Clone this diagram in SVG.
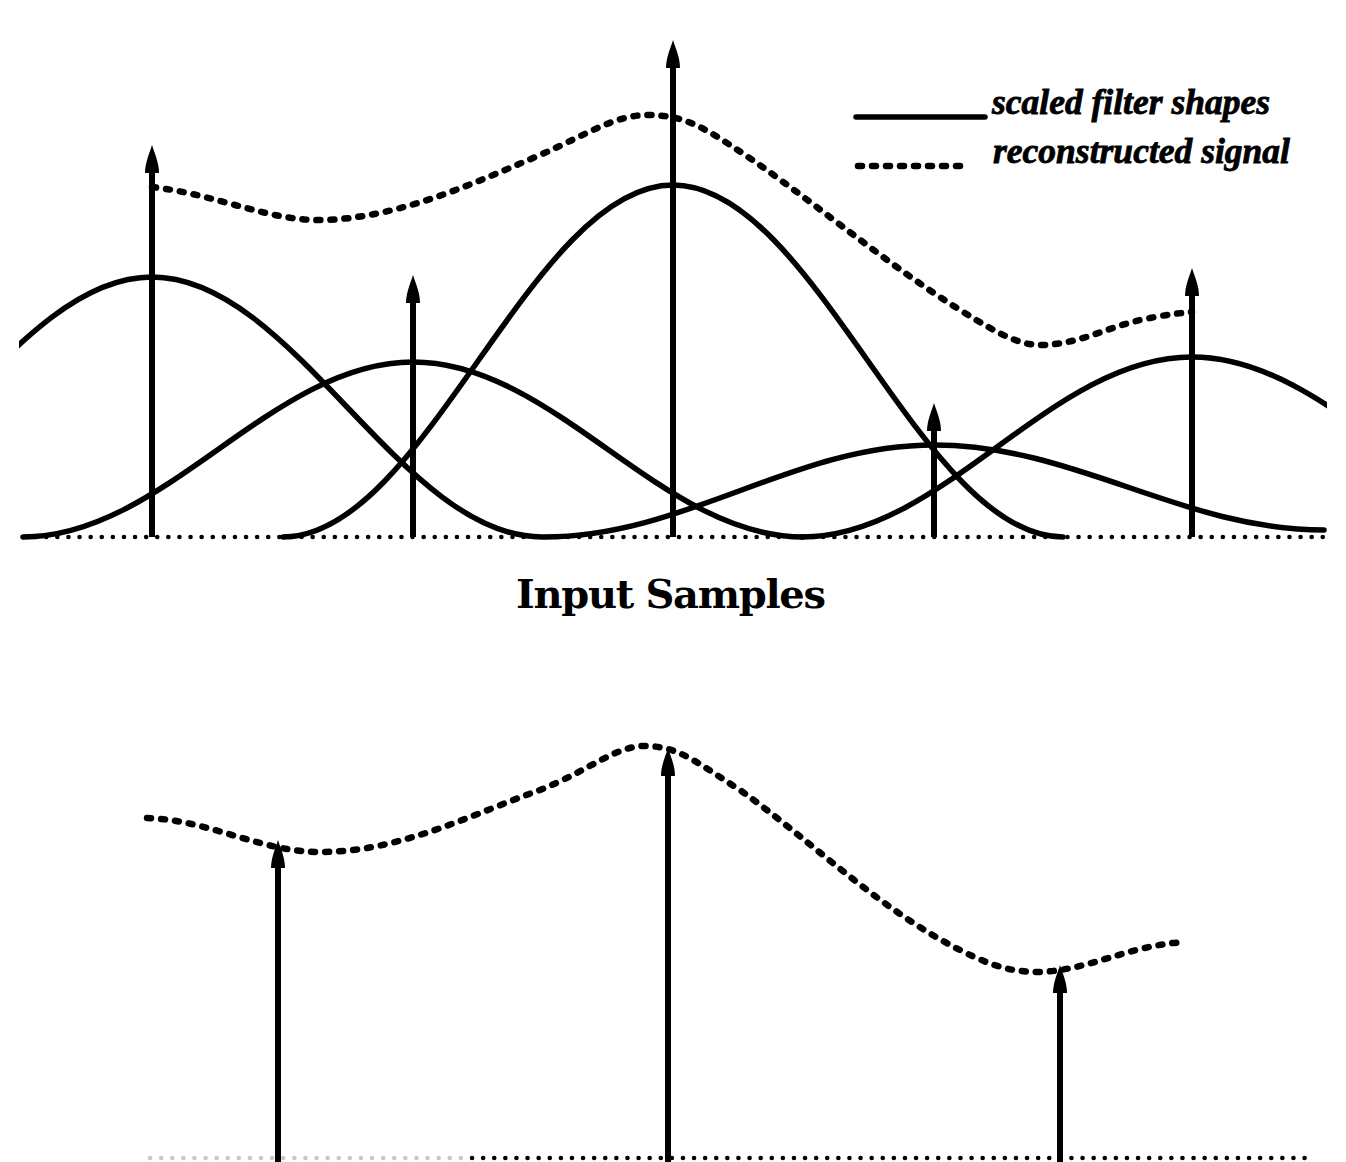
<svg xmlns="http://www.w3.org/2000/svg" xmlns:xlink="http://www.w3.org/1999/xlink" width="1346" height="1162" viewBox="0 0 1346 1162">
<style>
.curve{fill:none;stroke:#000;stroke-width:5.5;stroke-linecap:round}
.signal{fill:none;stroke:#000;stroke-width:6.5;stroke-dasharray:4 10;stroke-linecap:round}
.base{fill:none;stroke:#000;stroke-width:4.5;stroke-dasharray:0.1 11;stroke-linecap:round}
.shaft{stroke:#000;stroke-width:6}
.legend{font-family:"Liberation Serif","Times New Roman",serif;font-weight:bold;font-style:italic;font-size:35px;fill:#000;stroke:#000;stroke-width:0.8}
.label{font-family:"DejaVu Serif",serif;font-weight:bold;font-size:40px;fill:#000}
</style>
<defs>
<path id="head" d="M0,0 C2,7 7,17 7,28 L-7,28 C-7,17 -2,7 0,0 Z" fill="#000"/>
<clipPath id="clip"><rect x="19" y="0" width="1308" height="600"/></clipPath>
</defs>

<g id="top-baseline">
<line class="base" x1="24" y1="537" x2="1326" y2="537"/>
</g>

<g id="filter-shapes" clip-path="url(#clip)">
<path id="filter-1" class="curve" d="M-238,537 C-96.3,537 10.3,277 152,277 C293.7,277 400.3,537 542,537"/>
<path id="filter-2" class="curve" d="M23,537 C164.7,537 271.3,362 413,362 C554.7,362 661.3,537 803,537"/>
<path id="filter-3" class="curve" d="M283,537 C424.7,537 531.3,185 673,185 C814.7,185 921.3,537 1063,537"/>
<path id="filter-4" class="curve" d="M544,537 C685.7,537 792.3,445 934,445 C1075.7,445 1182.3,530 1324,530"/>
<path id="filter-5" class="curve" d="M802,537 C943.7,537 1050.3,357 1192,357 C1333.7,357 1440.3,537 1582,537"/>
</g>

<g id="top-signal">
<path class="signal" d="M152,187 C220,195 270,222 325,220 C400,217 470,185 540,155 C590,133 615,115 648,115 C680,115 700,125 730,145 C800,190 880,260 960,310 C1000,335 1020,345 1040,345 C1080,345 1110,325 1150,318 C1165,315 1180,313 1192,312"/>
</g>

<g id="input-samples">
<g id="sample-1"><line class="shaft" x1="152" y1="537" x2="152" y2="165"/><use xlink:href="#head" x="152" y="145"/></g>
<g id="sample-2"><line class="shaft" x1="413" y1="537" x2="413" y2="295"/><use xlink:href="#head" x="413" y="275"/></g>
<g id="sample-3"><line class="shaft" x1="673" y1="537" x2="673" y2="60"/><use xlink:href="#head" x="673" y="40"/></g>
<g id="sample-4"><line class="shaft" x1="934" y1="537" x2="934" y2="423"/><use xlink:href="#head" x="934" y="403"/></g>
<g id="sample-5"><line class="shaft" x1="1192" y1="537" x2="1192" y2="288"/><use xlink:href="#head" x="1192" y="268"/></g>
</g>

<g id="legend">
<line x1="856" y1="117" x2="985" y2="117" stroke="#000" stroke-width="5.5" stroke-linecap="round"/>
<text class="legend" x="992" y="114" textLength="278" lengthAdjust="spacingAndGlyphs">scaled filter shapes</text>
<line class="signal" x1="858" y1="166" x2="968" y2="166"/>
<text class="legend" x="993" y="163" textLength="297" lengthAdjust="spacingAndGlyphs">reconstructed signal</text>
</g>

<g id="caption">
<text class="label" x="516" y="608" textLength="310" lengthAdjust="spacing">Input Samples</text>
</g>

<g id="bottom-baseline">
<line class="base" x1="150" y1="1158" x2="470" y2="1158" style="stroke:#c8c8c8"/>
<line class="base" x1="472" y1="1158" x2="1308" y2="1158"/>
</g>

<g id="bottom-signal">
<path class="signal" d="M147,818 C210,820 260,852 320,852 C400,852 470,815 540,790 C590,770 615,746 645,746 C680,746 700,765 740,790 C810,840 880,910 960,950 C995,968 1015,972 1040,972 C1090,970 1130,945 1185,942"/>
</g>

<g id="output-samples">
<g id="out-sample-1"><line class="shaft" x1="278" y1="1162" x2="278" y2="860"/><use xlink:href="#head" x="278" y="840"/></g>
<g id="out-sample-2"><line class="shaft" x1="668" y1="1162" x2="668" y2="768"/><use xlink:href="#head" x="668" y="748"/></g>
<g id="out-sample-3"><line class="shaft" x1="1060" y1="1162" x2="1060" y2="985"/><use xlink:href="#head" x="1060" y="965"/></g>
</g>
</svg>
